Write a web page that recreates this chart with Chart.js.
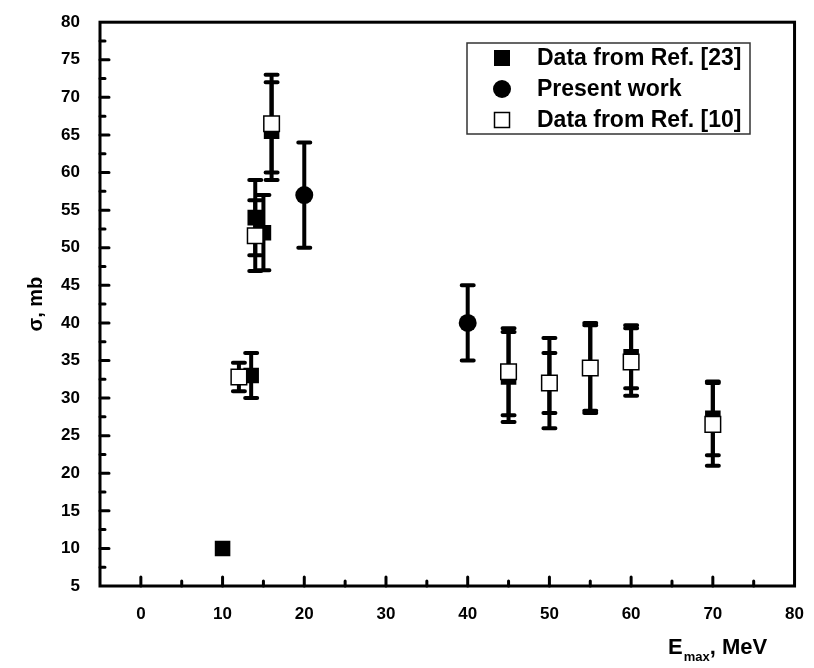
<!DOCTYPE html>
<html>
<head>
<meta charset="utf-8">
<script src="https://cdn.jsdelivr.net/npm/chart.js@4.4.0/dist/chart.umd.min.js"></script>
<style>
  html, body { margin: 0; padding: 0; background: #fff; }
</style>
</head>
<body>
<canvas id="chart" width="814" height="668"></canvas>
<script>
// E_max (MeV), sigma (mb) and error for each set
const ref23X = [10, 13.5, 14, 15, 16, 45, 50, 55, 60, 70];
const ref23Y = [10, 33, 54, 52, 65.5, 32.8, 32, 34, 35.5, 27.3];
const ref23Err = [0, 3, 5, 5, 6.5, 6, 6, 6, 4.2, 4.9];

const presentX = [20, 40];
const presentY = [57, 40];
const presentErr = [7, 5];

const ref10X = [12, 14, 16, 45, 50, 55, 60, 70];
const ref10Y = [32.8, 51.6, 66.5, 33.5, 32, 34, 34.8, 26.5];
const ref10Err = [1.9, 4.7, 6.5, 5.8, 4, 5.7, 4.5, 5.5];

const xTicks = [0, 10, 20, 30, 40, 50, 60, 70, 80];
const yTicks = [5, 10, 15, 20, 25, 30, 35, 40, 45, 50, 55, 60, 65, 70, 75, 80];

const labels = ['Data from Ref. [23]', 'Present work', 'Data from Ref. [10]'];

function toPoints(xs, ys) {
    return xs.map((x, i) => ({ x: x, y: ys[i] }));
}

const tickFont = { family: 'Liberation Sans', weight: 'bold', size: 17 };

// error bars, drawn under the markers
const errorBars = {
    id: 'errorBars',
    beforeDatasetsDraw(chart) {
        const ctx = chart.ctx;
        const xs = chart.scales.x, ys = chart.scales.y;
        ctx.save();
        ctx.strokeStyle = '#000';
        ctx.lineWidth = 4;
        ctx.lineCap = 'round';
        chart.data.datasets.forEach(ds => {
            ds.data.forEach((p, i) => {
                const e = ds.errors[i];
                if (!e) return;
                const px = xs.getPixelForValue(p.x);
                const top = ys.getPixelForValue(p.y + e);
                const bot = ys.getPixelForValue(p.y - e);
                ctx.beginPath();
                ctx.moveTo(px, top);
                ctx.lineTo(px, bot);
                ctx.moveTo(px - 6, top);
                ctx.lineTo(px + 6, top);
                ctx.moveTo(px - 6, bot);
                ctx.lineTo(px + 6, bot);
                ctx.stroke();
            });
        });
        ctx.restore();
    }
};

// frame, inward ticks, x title, legend box
const frame = {
    id: 'frame',
    afterDraw(chart) {
        const ctx = chart.ctx;
        const a = chart.chartArea;
        const xs = chart.scales.x, ys = chart.scales.y;
        ctx.save();
        ctx.strokeStyle = '#000';
        ctx.lineWidth = 3;
        ctx.strokeRect(a.left, a.top, a.right - a.left, a.bottom - a.top);

        ctx.lineCap = 'round';
        ctx.beginPath();
        for (let v = 0; v < 80; v += 5) {
            const px = xs.getPixelForValue(v);
            const len = v % 10 === 0 ? 9 : 5;
            ctx.moveTo(px, a.bottom);
            ctx.lineTo(px, a.bottom - len);
        }
        for (let v = 7.5; v < 80; v += 2.5) {
            const py = ys.getPixelForValue(v);
            const len = v % 5 === 0 ? 9 : 5;
            ctx.moveTo(a.left, py);
            ctx.lineTo(a.left + len, py);
        }
        ctx.stroke();

        // x axis title with subscript
        ctx.fillStyle = '#000';
        ctx.textBaseline = 'alphabetic';
        ctx.textAlign = 'left';
        let tx = 668;
        const ty = 654;
        ctx.font = 'bold 22px "Liberation Sans"';
        ctx.fillText('E', tx, ty);
        tx += ctx.measureText('E').width + 1;
        ctx.font = 'bold 13px "Liberation Sans"';
        ctx.fillText('max', tx, ty + 7);
        tx += ctx.measureText('max').width;
        ctx.font = 'bold 22px "Liberation Sans"';
        ctx.fillText(', MeV', tx, ty);

        // legend
        const lx = 467, ly = 43, lw = 283, lh = 91;
        ctx.lineWidth = 1.5;
        ctx.strokeStyle = '#333';
        ctx.strokeRect(lx, ly, lw, lh);
        ctx.font = 'bold 23px "Liberation Sans"';
        ctx.textBaseline = 'middle';
        labels.forEach((t, i) => {
            const cy = ly + 15 + i * 31;
            const mx = 502;
            if (i === 0) {
                ctx.fillStyle = '#000';
                ctx.fillRect(mx - 8, cy - 8, 16, 16);
            } else if (i === 1) {
                ctx.fillStyle = '#000';
                ctx.beginPath();
                ctx.arc(mx, cy, 9, 0, Math.PI * 2);
                ctx.fill();
            } else {
                ctx.fillStyle = '#fff';
                ctx.fillRect(mx - 7.5, cy - 7.5, 15, 15);
                ctx.lineWidth = 1.5;
                ctx.strokeStyle = '#000';
                ctx.strokeRect(mx - 7.5, cy - 7.5, 15, 15);
            }
            ctx.fillStyle = '#000';
            ctx.fillText(t, 537, cy + 1);
        });
        ctx.restore();
    }
};

new Chart(document.getElementById('chart'), {
    type: 'scatter',
    data: {
        datasets: [{
            label: labels[0],
            data: toPoints(ref23X, ref23Y),
            errors: ref23Err,
            order: 3,
            pointStyle: 'rect',
            pointRadius: 11,
            backgroundColor: '#000',
            borderColor: '#000',
            borderWidth: 0
        }, {
            label: labels[1],
            data: toPoints(presentX, presentY),
            errors: presentErr,
            order: 2,
            pointStyle: 'circle',
            pointRadius: 9,
            backgroundColor: '#000',
            borderColor: '#000',
            borderWidth: 0
        }, {
            label: labels[2],
            data: toPoints(ref10X, ref10Y),
            errors: ref10Err,
            order: 1,
            pointStyle: 'rect',
            pointRadius: 11,
            backgroundColor: '#fff',
            borderColor: '#000',
            borderWidth: 1.5
        }]
    },
    options: {
        responsive: false,
        animation: false,
        devicePixelRatio: 1,
        layout: { padding: { top: 20, right: 14, left: 0, bottom: 0 } },
        plugins: {
            legend: { display: false },
            tooltip: { enabled: false }
        },
        scales: {
            x: {
                type: 'linear',
                min: -5,
                max: 80,
                afterBuildTicks(scale) {
                    scale.ticks = xTicks.map(v => ({ value: v }));
                },
                afterFit(scale) {
                    scale.height = 82;
                },
                grid: { display: false },
                border: { display: false },
                ticks: { color: '#000', font: tickFont, padding: 10, maxRotation: 0 }
            },
            y: {
                type: 'linear',
                min: 5,
                max: 80,
                afterBuildTicks(scale) {
                    scale.ticks = yTicks.map(v => ({ value: v }));
                },
                afterFit(scale) {
                    scale.width = 100;
                },
                grid: { display: false },
                border: { display: false },
                ticks: { color: '#000', font: tickFont, padding: 12 },
                title: {
                    display: true,
                    text: 'σ, mb',
                    color: '#000',
                    font: { family: 'Liberation Sans', weight: 'bold', size: 20 },
                    padding: { top: 24, bottom: 0 }
                }
            }
        }
    },
    plugins: [errorBars, frame]
});
</script>
</body>
</html>
